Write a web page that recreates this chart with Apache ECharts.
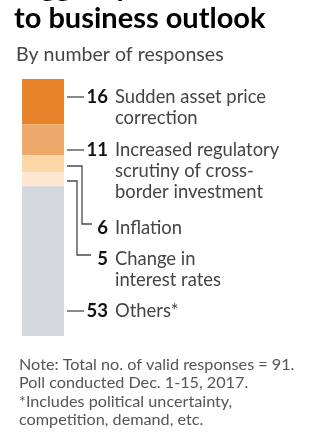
<!DOCTYPE html>
<html>
<head>
<meta charset="utf-8">
<script src="https://cdn.jsdelivr.net/npm/echarts@6/dist/echarts.min.js"></script>
<style>
  html, body { margin: 0; padding: 0; background: #fff; }
  #chart { width: 336px; height: 448px; }
</style>
</head>
<body>
<div id="chart"></div>
<script>
// responses by perceived threat, top to bottom of the bar
var names = ['Sudden asset price correction', 'Increased regulatory scrutiny of cross-border investment', 'Inflation', 'Change in interest rates', 'Others*'];
var values = [16, 11, 6, 5, 53];
var colors = ['#e8822b', '#eeaa6b', '#fdd7a6', '#fee6d0', '#d4d9dc'];
var labelLines = [
    ['Sudden asset price', 'correction'],
    ['Increased regulatory', 'scrutiny of cross-', 'border investment'],
    ['Inflation'],
    ['Change in', 'interest rates'],
    ['Others*']
];
var total = 91;

var FONT = 'Lato';
var myChart = echarts.init(document.getElementById('chart'), null, {width: 336, height: 448});

var series = [];
for (var i = 0; i < values.length; i++) {
    series.push({
        name: names[i],
        type: 'bar',
        stack: 'all',
        barWidth: '100%',
        itemStyle: {color: colors[i]},
        data: [values[i]],
        animation: false
    });
}

// label positions (text centre y) for each category
var labelY = [97, 150, 228, 259, 311];
var lineH = 21;
var graphics = [];

function txt(x, y, s, size, weight, color, align) {
    graphics.push({
        type: 'text', x: x, y: y,
        style: {
            text: s, fill: color, font: weight + ' ' + size + 'px ' + FONT,
            textAlign: align || 'left', textVerticalAlign: 'middle'
        }
    });
}
function poly(points) {
    graphics.push({
        type: 'polyline',
        shape: {points: points},
        style: {stroke: '#4a4a4a', lineWidth: 1.3, fill: null}
    });
}

// header
txt(14, -13, 'Biggest perceived threats', 29, 'bold', '#000');
txt(14, 19, 'to business outlook', 29, 'bold', '#000');
txt(16, 55, 'By number of responses', 19.6, 'normal', '#444');

for (var k = 0; k < values.length; k++) {
    var y = labelY[k];
    txt(108, y, String(values[k]), 18.5, 'bold', '#111', 'right');
    for (var j = 0; j < labelLines[k].length; j++) {
        txt(115, y + j * lineH, labelLines[k][j], 18.4, 'normal', '#444');
    }
}
// leader lines
poly([[67, 97], [84, 97]]);
poly([[67, 150], [84, 150]]);
poly([[67, 311], [84, 311]]);
// brackets for the thin segments
poly([[67, 166], [82, 166], [82, 224], [92, 224]]);
poly([[67, 181], [77, 181], [77, 255], [91, 255]]);

// notes
txt(19, 365, 'Note: Total no. of valid responses = 91.', 16.2, 'normal', '#555');
txt(19, 383, 'Poll conducted Dec. 1-15, 2017.', 16.2, 'normal', '#555');
txt(19, 402, '*Includes political uncertainty,', 16.2, 'normal', '#555');
txt(19, 420, 'competition, demand, etc.', 16.2, 'normal', '#555');

var option = {
    animation: false,
    grid: {left: 22, top: 79, width: 42, height: 257},
    xAxis: {type: 'category', data: ['responses'], show: false},
    yAxis: {type: 'value', min: 0, max: total, inverse: true, show: false},
    series: series,
    graphic: graphics
};
myChart.setOption(option);
</script>
</body>
</html>
